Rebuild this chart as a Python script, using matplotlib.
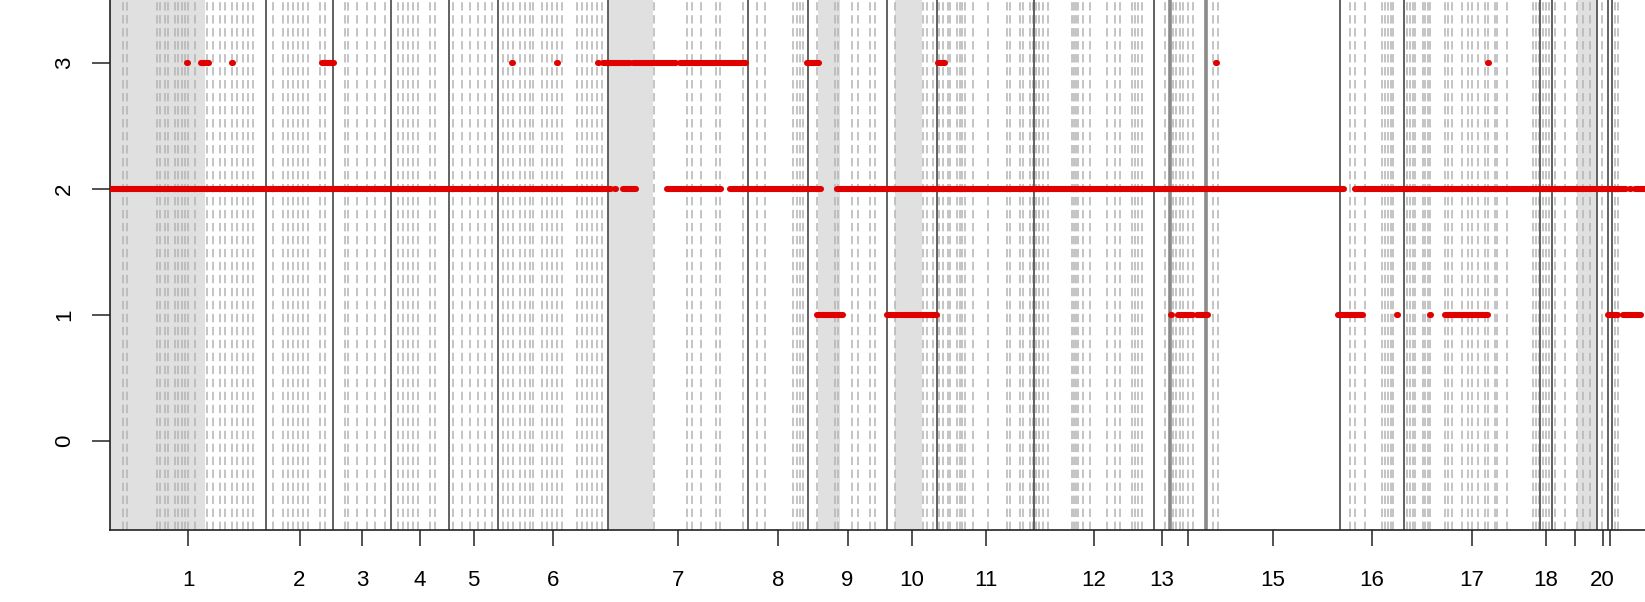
import numpy as np
import matplotlib
matplotlib.use("Agg")
import matplotlib.pyplot as plt

# chromosome sizes in bins (bin index along the x axis)
chrom_names = [str(i) for i in range(1, 23)]
chrom_bins = [156, 67, 58, 58, 49, 110, 140, 60, 79, 50, 97, 120,
              16, 36, 134, 64, 136, 12, 45, 11, 4, 90]
hidden_labels = ["14", "19", "21"]

# probe / gene positions (dashed grey lines), bin index
probe_pos = [13, 17, 47, 50, 55, 58, 65, 68, 72, 75, 78, 85, 97, 103, 110, 115, 122, 127, 133, 138, 143,
             163, 173, 178, 183, 188, 193, 198, 210, 215,
             235, 238, 247, 257, 265, 275,
             288, 293, 298, 303, 308, 320, 325,
             343, 352, 360, 368, 375, 382,
             393, 398, 403, 410, 415, 420, 423, 432, 437, 442, 447, 452, 467, 472, 477, 482, 487, 492,
             544, 577, 582, 591, 606, 610, 633,
             647, 655, 683, 687, 690, 693,
             707, 725, 728, 742, 748, 760, 765,
             785, 813, 817, 823,
             829, 833, 838, 840, 847, 850, 852, 855, 863, 878, 897, 900, 910, 913, 920, 923,
             926, 929, 933, 938, 962, 964, 966, 968, 973, 980, 997, 1005, 1010, 1022, 1025, 1028, 1032,
             1055,
             1063, 1066, 1070, 1073, 1078, 1083,
             1103, 1108,
             1240, 1245, 1255, 1272, 1275, 1278, 1281, 1283,
             1297, 1300, 1303, 1305, 1313, 1315, 1318, 1320, 1335, 1338, 1342, 1352, 1358, 1362,
             1368, 1375, 1378, 1385, 1387, 1397, 1423, 1426, 1429,
             1433, 1436, 1439,
             1445, 1455, 1467, 1473, 1480,
             1492,
             1505, 1508]

# shaded regions (start, end) in bins
shaded = [(0, 95), (498, 543), (708, 730), (785, 812), (1467, 1487)]

# copy-number segments (start bin, end bin)
cn3_segs = [(77, 77), (91, 98), (122, 122), (212, 223), (402, 402), (447, 447), (488, 488),
            (493, 519), (523, 565), (570, 635), (697, 708), (828, 834), (1106, 1106), (1378, 1378)]
cn2_segs = [(0, 500), (505, 505), (513, 525), (557, 610), (620, 710), (727, 1233),
            (1245, 1515), (1520, 1520), (1525, 1540)]
cn1_segs = [(707, 732), (777, 787), (790, 826), (1061, 1061), (1068, 1082), (1087, 1097),
            (1228, 1252), (1287, 1287), (1320, 1320), (1335, 1377), (1498, 1507), (1513, 1530)]

plt.rcParams['font.family'] = ['Liberation Sans', 'DejaVu Sans']

W, H = 1645, 602
fig = plt.figure(figsize=(W / 100, H / 100), dpi=100)
ax = fig.add_axes([110 / W, 72 / H, 1 - 110 / W, 530 / H])

for s, e in shaded:
    ax.axvspan(s, e, color='#e0e0e0', lw=0, zorder=0)

for p in probe_pos:
    ax.axvline(p, color='#b4b4b4', lw=1.1, linestyle=(0, (5.5, 3.0)), zorder=1)

bounds = np.cumsum(chrom_bins)
for i, b in enumerate(bounds[:-1]):
    if chrom_names[i] in ("13", "14"):
        ax.axvline(b, color='#8a8a8a', lw=2.6, zorder=2)
    else:
        ax.axvline(b, color='#555555', lw=1.3, zorder=2)

for cn, segs in [(3, cn3_segs), (2, cn2_segs), (1, cn1_segs)]:
    starts = [s for s, e in segs]
    ends = [e + 0.5 for s, e in segs]
    lc = ax.hlines([cn] * len(segs), starts, ends, colors='#e00000', lw=4.4, zorder=3)
    lc.set_capstyle('round')

mids = bounds - np.array(chrom_bins) / 2.0
labels = ["" if n in hidden_labels else n for n in chrom_names]
ax.set_xticks(mids)
ax.set_xticklabels(labels)
ax.set_yticks([0, 1, 2, 3])
ax.set_yticklabels(["0", "1", "2", "3"], rotation=90, va='center')
# limits after the ticks, so the off-screen chr22 tick does not widen the view
ax.set_xlim(0, 1535)
ax.set_ylim(-0.706, 3.5)

ax.tick_params(axis='x', length=11.5, width=1.1, pad=17, labelsize=16, color='#222222')
ax.tick_params(axis='y', length=13, width=1.1, pad=12, labelsize=16, color='#222222')
for side in ('top', 'right'):
    ax.spines[side].set_visible(False)
for side in ('left', 'bottom'):
    ax.spines[side].set_color('#222222')
    ax.spines[side].set_linewidth(1.2)

fig.savefig("out.png", dpi=100)
